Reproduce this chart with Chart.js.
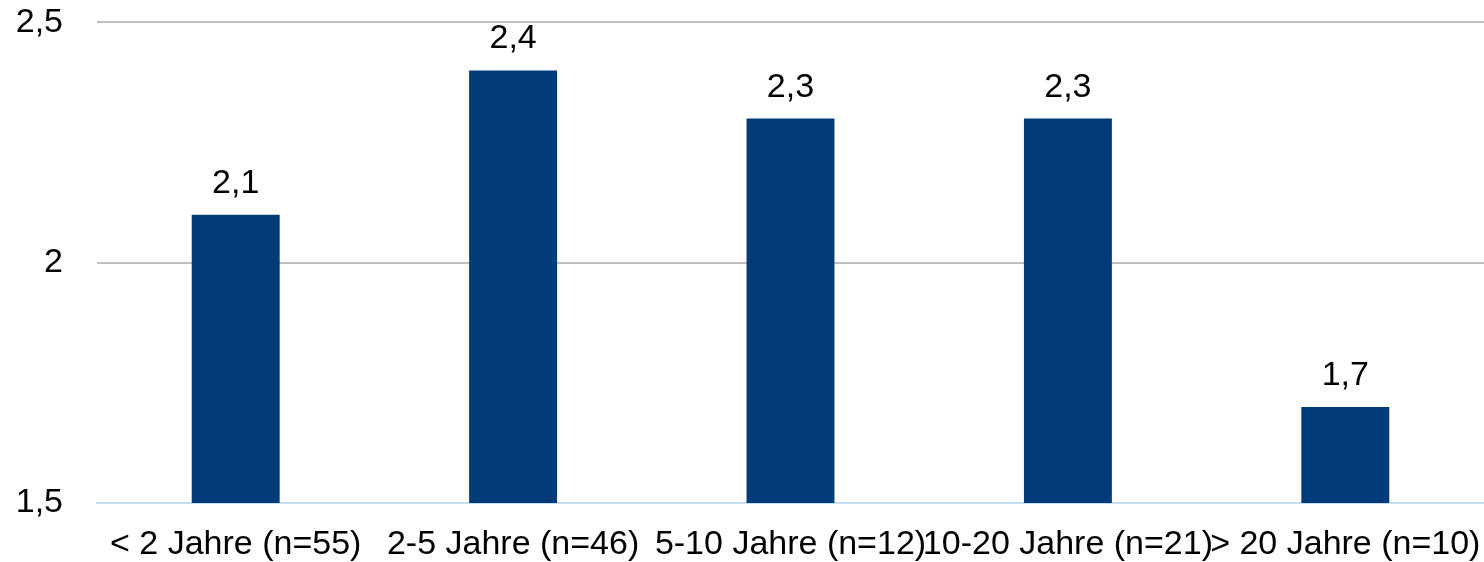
<!DOCTYPE html>
<html>
<head>
<meta charset="utf-8">
<script src="https://cdn.jsdelivr.net/npm/chart.js@4/dist/chart.umd.min.js"></script>
<style>
  html, body { margin: 0; padding: 0; background: #ffffff; }
  #wrap { width: 1484px; height: 562px; position: relative; }
</style>
</head>
<body>
<div id="wrap"><canvas id="c" width="1484" height="562"></canvas></div>
<script>
const categories = ["< 2 Jahre (n=55)", "2-5 Jahre (n=46)", "5-10 Jahre (n=12)", "10-20 Jahre (n=21)", "> 20 Jahre (n=10)"];
const values = [2.1, 2.4, 2.3, 2.3, 1.7];
const yTicks = [1.5, 2, 2.5];

const fmt = v => String(v).replace('.', ',');
const FONT = '"Liberation Sans", Arial, sans-serif';

const valueLabels = {
  id: 'valueLabels',
  afterDatasetsDraw(chart) {
    const ctx = chart.ctx;
    const meta = chart.getDatasetMeta(0);
    ctx.save();
    ctx.font = '34px ' + FONT;
    ctx.fillStyle = '#000000';
    ctx.textAlign = 'center';
    ctx.textBaseline = 'alphabetic';
    meta.data.forEach((bar, i) => {
      ctx.fillText(fmt(values[i]), bar.x, bar.y - 22);
    });
    ctx.restore();
  }
};

new Chart(document.getElementById('c'), {
  type: 'bar',
  data: {
    labels: categories,
    datasets: [{
      data: values,
      backgroundColor: '#023B7A',
      borderWidth: 0,
      categoryPercentage: 1,
      barPercentage: 0.317
    }]
  },
  options: {
    responsive: false,
    animation: false,
    devicePixelRatio: 1,
    layout: { padding: { top: 0, right: 0, left: 0, bottom: 0 } },
    plugins: { legend: { display: false }, tooltip: { enabled: false } },
    scales: {
      x: {
        offset: true,
        grid: { display: false, drawTicks: false },
        border: { display: true, color: '#C5DDF5', width: 2 },
        afterFit(scale) { scale.height = 59; scale.paddingLeft = 0; scale.paddingRight = 0; },
        ticks: {
          color: '#000000',
          font: { family: FONT, size: 34 },
          maxRotation: 0, minRotation: 0, autoSkip: false, padding: 21
        }
      },
      y: {
        min: 1.5, max: 2.5,
        afterBuildTicks(scale) { scale.ticks = yTicks.map(v => ({ value: v })); },
        afterFit(scale) { scale.width = 97; },
        grid: {
          color: ctx => (ctx.tick && ctx.tick.value === 1.5) ? 'rgba(0,0,0,0)' : '#BFBFBF',
          lineWidth: 2,
          drawTicks: true,
          tickLength: 32,
          tickColor: 'rgba(0,0,0,0)'
        },
        border: { display: false },
        ticks: {
          color: '#000000',
          font: { family: FONT, size: 34 },
          padding: 2,
          callback: v => fmt(v)
        }
      }
    }
  },
  plugins: [valueLabels]
});
</script>
</body>
</html>
